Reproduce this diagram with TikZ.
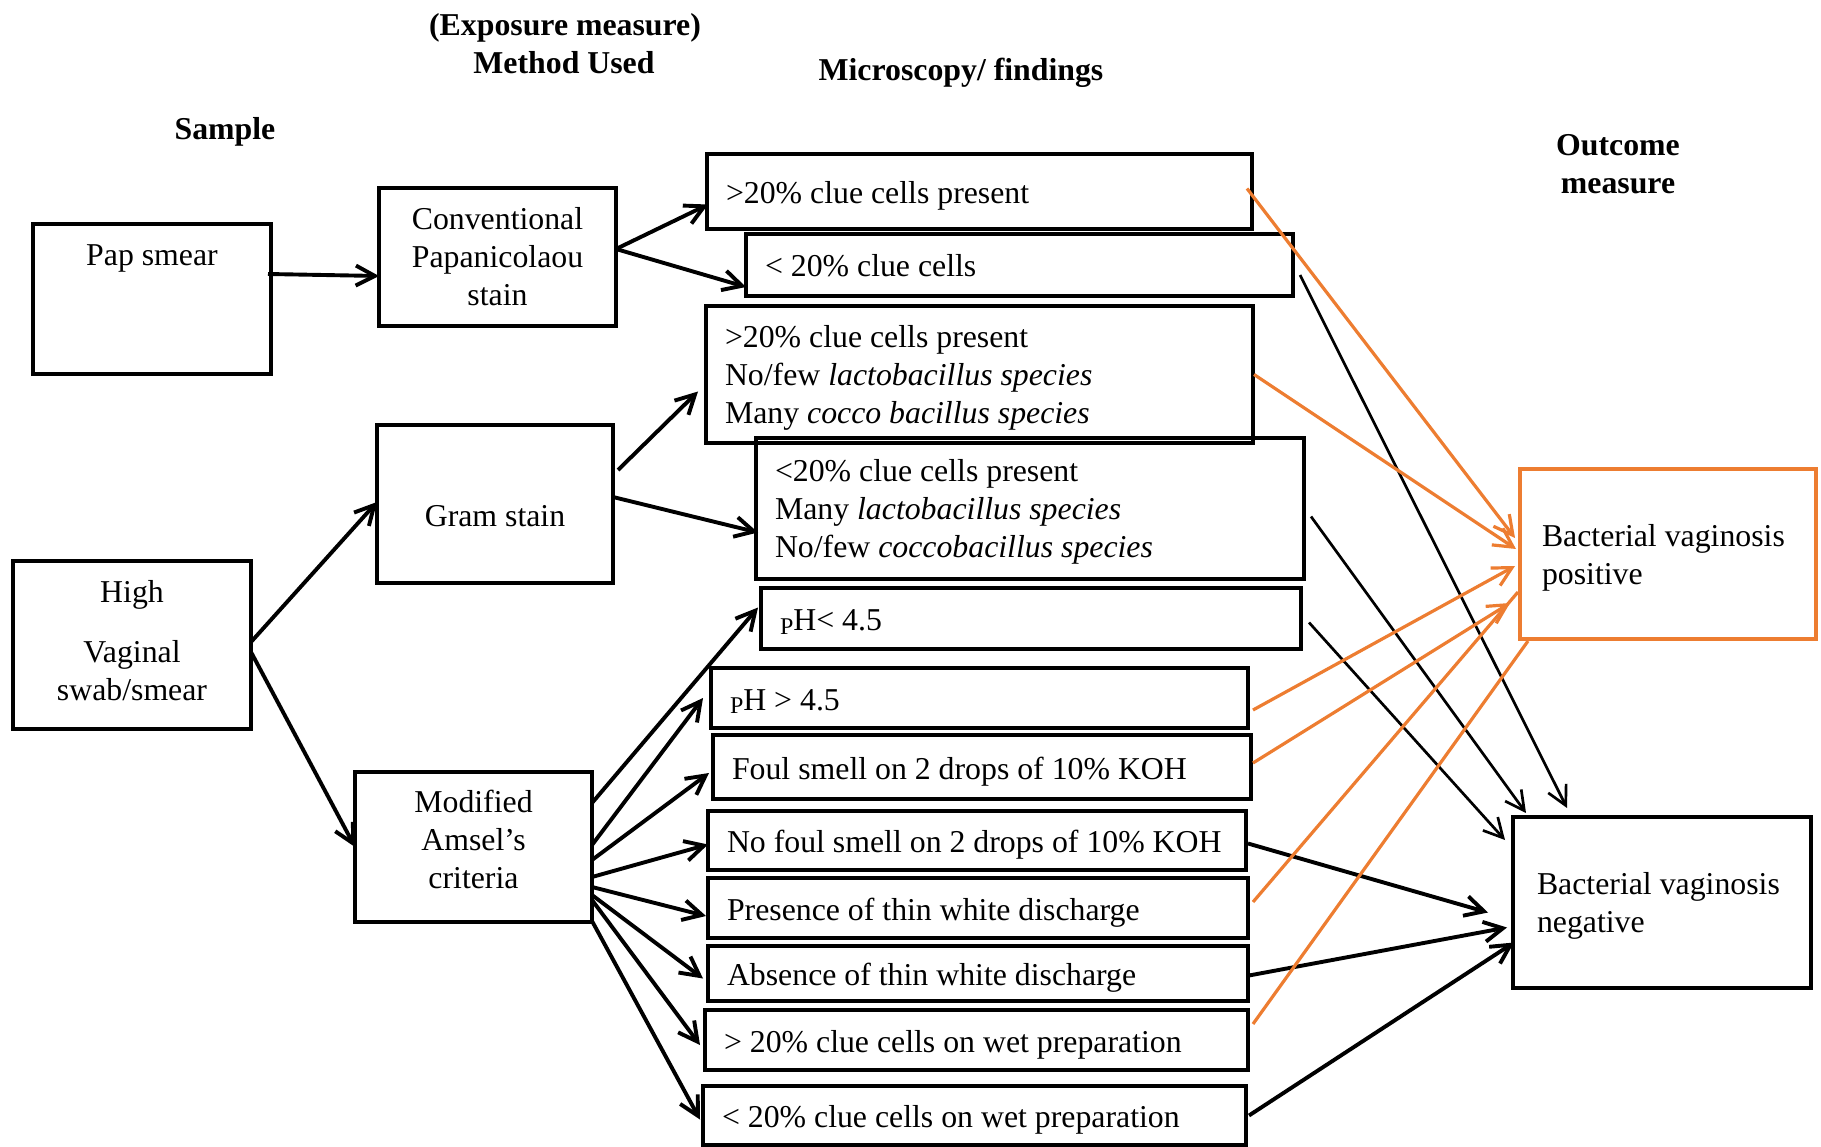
\documentclass[tikz,border=0pt]{standalone}
\usepackage{fontspec}
\setmainfont{Liberation Serif}
\usepackage{tikz}
\usetikzlibrary{arrows.meta, calc}

\definecolor{bvorange}{RGB}{237,125,49}
\newcommand{\diagfont}{\fontsize{31.8}{38}\selectfont}
\newcommand{\lowp}{\raisebox{-3.5pt}{\fontsize{24}{24}\selectfont P}}
\newcommand{\topstrut}{\rule{0pt}{29pt}}
\newcommand{\deepstrut}[1]{\rule[-#1]{0pt}{#1}}

\begin{document}
\begin{tikzpicture}[
    x=1pt, y=-1pt,
    box/.style={draw, line width=4pt, inner sep=0pt, outer sep=0pt, font=\diagfont},
    findbox/.style={box, anchor=north west, align=flush left, inner xsep=19pt},
    oneline/.style={text height=24pt, text depth=0pt},
    outbox/.style={box, anchor=north west, align=flush left, inner xsep=22pt},
    heading/.style={font=\diagfont\bfseries, anchor=base, inner sep=0pt},
    arrow/.style={-{Straight Barb[length=19pt, width=20pt]}, line width=3.9pt},
    thinarrow/.style={-{Straight Barb[length=19pt, width=20pt]}, line width=2.7pt},
    orangeline/.style={bvorange, line width=3.2pt},
    orangearrow/.style={orangeline, -{Straight Barb[length=19pt, width=20pt]}}
]
    \useasboundingbox (0,0) rectangle (1821,1147);

    % Column titles
    \node[heading] (exposure) at (565,35.5) {(Exposure measure)};
    \node[heading] (method) at (564,74) {Method Used};
    \node[heading] (micro) at (961,80.5) {Microscopy/ findings};
    \node[heading] (sample) at (225,139.5) {Sample};
    \node[heading] (outcome) at (1618,155.5) {Outcome};
    \node[heading] (measure) at (1618,194) {measure};

    % Samples and methods
    \node[box, anchor=north west, minimum width=238pt, text height=42pt, text depth=108pt] (pap) at (33,224) {Pap smear};
    \node[box, anchor=north west, minimum width=237pt, minimum height=138pt, align=flush center] (conv) at (379,188) {Conventional\\Papanicolaou\\stain};
    \node[box, anchor=north west, minimum width=236pt, text height=101pt, text depth=57pt] (gram) at (377,425) {Gram stain};
    \node[box, anchor=north west, minimum width=238pt, minimum height=168pt, align=flush center] (high) at (13,561) {High\\[22pt]Vaginal\\swab/smear\deepstrut{10pt}};
    \node[box, anchor=north west, minimum width=237pt, minimum height=150pt, align=flush center] (mod) at (355,772) {Modified\\Amsel’s\\criteria\deepstrut{16pt}};

    % Findings
    \node[findbox, oneline, text width=507pt, minimum height=75pt] (f1) at (707,154) {>20\% clue cells present};
    \node[findbox, oneline, text width=509pt, minimum height=62pt] (f2) at (746,234) {< 20\% clue cells};
    \node[findbox, text width=509pt, minimum height=137pt] (f3) at (706,306) {\topstrut>20\% clue cells present\\No/few \textit{lactobacillus species}\\Many \textit{cocco bacillus species}};
    \node[findbox, text width=510pt, minimum height=141pt] (f4) at (756,438) {\topstrut<20\% clue cells present\\Many \textit{lactobacillus species}\\No/few \textit{coccobacillus species}};
    \node[findbox, oneline, text width=502pt, minimum height=61pt] (f5) at (761,588) {\lowp H< 4.5};
    \node[findbox, oneline, text width=499pt, minimum height=60pt] (f6) at (711,668) {\lowp H > 4.5};
    \node[findbox, oneline, text width=500pt, minimum height=64pt] (f7) at (713,735) {Foul smell on 2 drops of 10\% KOH};
    \node[findbox, oneline, text width=500pt, minimum height=59pt] (f8) at (708,811) {No foul smell on 2 drops of 10\% KOH};
    \node[findbox, oneline, text width=502pt, minimum height=60pt] (f9) at (708,878) {Presence of thin white discharge};
    \node[findbox, oneline, text width=502pt, minimum height=55pt] (f10) at (708,946) {Absence of thin white discharge};
    \node[findbox, oneline, text width=505pt, minimum height=60pt] (f11) at (705,1010) {> 20\% clue cells on wet preparation};
    \node[findbox, oneline, text width=505pt, minimum height=59pt] (f12) at (703,1086) {< 20\% clue cells on wet preparation};

    % Outcomes
    \node[outbox, draw=bvorange, text width=252pt, minimum height=170pt] (pos) at (1520,469) {\topstrut Bacterial vaginosis\\positive};
    \node[outbox, inner xsep=24pt, text width=250pt, minimum height=171pt] (neg) at (1513,817) {\topstrut Bacterial vaginosis\\negative};

    % Sample to method
    \draw[arrow] ($(pap.east)+(-3,-25)$) -- ($(conv.west)+(0,19)$);
    \draw[arrow] ($(high.east)+(0,-3)$) -- ($(gram.west)+(0,-2)$);
    \draw[arrow] ($(high.east)+(0,7)$) -- (mod.west);

    % Method to findings
    \draw[arrow] ($(conv.east)+(0,-8)$) -- ($(f1.west)+(1,13)$);
    \draw[arrow] ($(conv.east)+(0,-8)$) -- ($(f2.west)+(0,22)$);
    \draw[arrow] ($(gram.east)+(5,-34)$) -- ($(f3.west)+(-8,17)$);
    \draw[arrow] ($(gram.east)+(0,-7)$) -- ($(f4.west)+(2,24)$);
    \draw[arrow] ($(mod.east)+(0,-44)$) -- ($(f5.west)+(-3,-11)$);
    \draw[arrow] ($(mod.east)+(0,-2)$) -- ($(f6.west)+(-8,0)$);
    \draw[arrow] ($(mod.east)+(0,13)$) -- ($(f7.west)+(-4,6)$);
    \draw[arrow] ($(mod.east)+(0,30)$) -- ($(f8.west)+(0,4)$);
    \draw[arrow] ($(mod.east)+(0,40)$) -- ($(f9.west)+(-2,8)$);
    \draw[arrow] ($(mod.east)+(0,48)$) -- ($(f10.west)+(-5,5)$);
    \draw[arrow] ($(mod.east)+(0,53)$) -- ($(f11.west)+(-5,5)$);
    \draw[arrow] ($(mod.east)+(0,74)$) -- ($(f12.west)+(-3,4)$);

    % Findings to negative
    \draw[thinarrow] ($(f2.east)+(7,10)$) -- ($(neg.north)+(-95,-9)$);
    \draw[thinarrow] ($(f4.east)+(7,8)$) -- ($(neg.north west)+(13,-4)$);
    \draw[thinarrow] ($(f5.east)+(8,4)$) -- ($(neg.north west)+(-8,23)$);
    \draw[arrow] ($(f8.east)+(2,3)$) -- ($(neg.west)+(-25,10)$);
    \draw[arrow] ($(f10.east)+(1,2)$) -- ($(neg.west)+(-6,25)$);
    \draw[arrow] ($(f12.east)+(3,0)$) -- ($(neg.west)+(1,40)$);

    % Findings to positive
    \draw[orangearrow] ($(f1.east)+(-5,-3)$) -- ($(pos.west)+(-5,-16)$);
    \draw[orangearrow] ($(f3.east)+(1,0)$) -- ($(pos.west)+(-4,-5)$);
    \draw[orangearrow] ($(f6.east)+(5,12)$) -- ($(pos.west)+(-5,12)$);
    \draw[orangearrow] ($(f7.east)+(2,-4)$) -- ($(pos.west)+(-10,49)$);
    \draw[orangeline] ($(f9.east)+(5,-6)$) -- ($(pos.west)+(-2,38)$);
    \draw[orangeline] ($(f11.east)+(5,-16)$) -- ($(pos.south west)+(8,2)$);

\end{tikzpicture}
\end{document}
